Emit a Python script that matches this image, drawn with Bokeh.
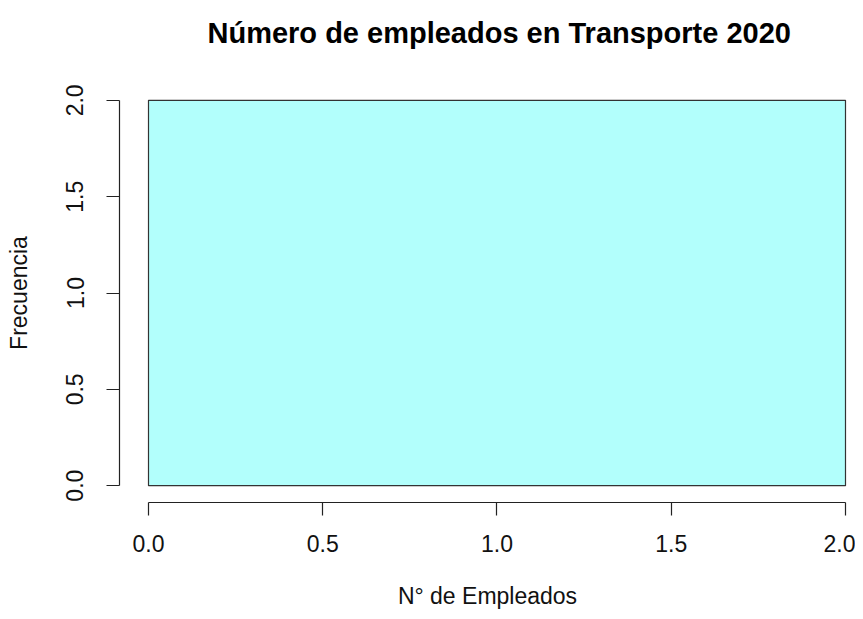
from bokeh.plotting import figure
from bokeh.models import FixedTicker, PrintfTickFormatter, Range1d
from bokeh.embed import file_html
from bokeh.resources import INLINE

# Data: histogram breaks and counts
breaks = [0.0, 2.0]
counts = [2]
x_ticks = [0.0, 0.5, 1.0, 1.5, 2.0]
y_ticks = [0.0, 0.5, 1.0, 1.5, 2.0]

title = "Número de empleados en Transporte 2020"
xlabel = "N° de Empleados"
ylabel = "Frecuencia"

FONT = "Liberation Sans"

p = figure(width=855, height=611, output_backend="svg", toolbar_location=None,
           x_range=Range1d(-0.0832, 2.0287), y_range=Range1d(-0.0876, 2.0876),
           min_border_left=119, min_border_right=0, min_border_top=83, min_border_bottom=106)

p.quad(left=breaks[:-1], right=breaks[1:], bottom=[0] * len(counts), top=counts,
       fill_color="#b2fffc", line_color="#333333", line_width=1.2)

# trailing empty line lifts the title away from the frame without growing the top border
p.title.text = title + "\n"
p.title.align = "left"
p.title.offset = 88
p.title.vertical_align = "bottom"
p.title.text_font = FONT
p.title.text_font_size = "29px"
p.title.text_font_style = "bold"
p.title.text_color = "black"
p.title.standoff = 6

p.outline_line_color = None
p.xgrid.visible = False
p.ygrid.visible = False
p.background_fill_color = "white"
p.border_fill_color = "white"

for ax, ticks, lab in ((p.xaxis[0], x_ticks, xlabel), (p.yaxis[0], y_ticks, ylabel)):
    ax.ticker = FixedTicker(ticks=ticks)
    ax.formatter = PrintfTickFormatter(format="%.1f")
    ax.bounds = (min(ticks), max(ticks))
    ax.minor_tick_line_color = None
    ax.major_tick_in = 0
    ax.major_tick_out = 13
    ax.axis_line_color = "#222222"
    ax.major_tick_line_color = "#222222"
    ax.axis_line_width = 1.2
    ax.major_tick_line_width = 1.2
    ax.major_label_text_font = FONT
    ax.major_label_text_font_size = "23px"
    ax.major_label_text_color = "#111111"
    ax.axis_label = lab
    ax.axis_label_text_font = FONT
    ax.axis_label_text_font_size = "23px"
    ax.axis_label_text_font_style = "normal"
    ax.axis_label_text_color = "#111111"

p.xaxis[0].major_label_standoff = 19
p.xaxis[0].axis_label_standoff = 28
p.yaxis[0].major_label_orientation = "vertical"
p.yaxis[0].major_label_standoff = 23
p.yaxis[0].axis_label_standoff = 32

open("out.html", "w").write(file_html(p, INLINE))
